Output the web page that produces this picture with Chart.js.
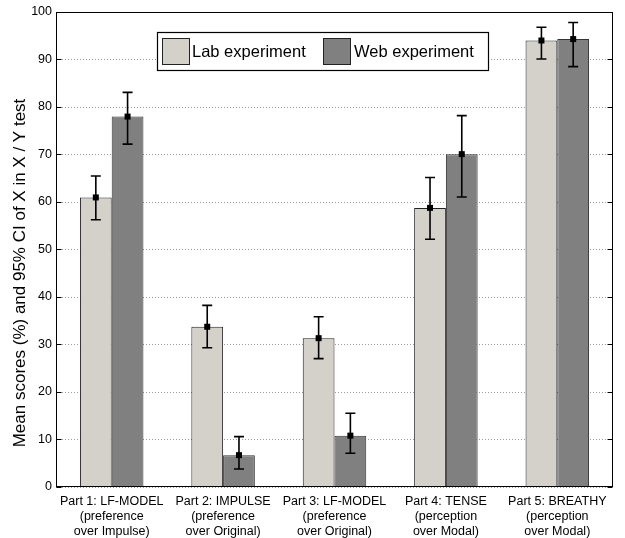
<!DOCTYPE html>
<html>
<head>
<meta charset="utf-8">
<script src="https://cdn.jsdelivr.net/npm/chart.js@4/dist/chart.umd.min.js"></script>
<style>
  html, body { margin: 0; padding: 0; background: #fff; }
  canvas { display: block; }
</style>
</head>
<body>
<canvas id="c" width="625" height="538"></canvas>
<script>
// ---- Data ----
const categories = [
  ["Part 1: LF-MODEL", "(preference", "over Impulse)"],
  ["Part 2: IMPULSE", "(preference", "over Original)"],
  ["Part 3: LF-MODEL", "(preference", "over Original)"],
  ["Part 4: TENSE", "(perception", "over Modal)"],
  ["Part 5: BREATHY", "(perception", "over Modal)"]
];
const seriesNames = ["Lab experiment", "Web experiment"];
const labMean = [60.9, 33.7, 31.3, 58.7, 93.9];
const labLow  = [56.2, 29.3, 27.0, 52.1, 90.0];
const labHigh = [65.4, 38.2, 35.8, 65.1, 96.7];
const webMean = [77.9, 6.7, 10.8, 70.0, 94.2];
const webLow  = [72.1, 3.8, 7.1, 61.0, 88.4];
const webHigh = [83.0, 10.6, 15.5, 78.1, 97.7];
const yTicks = [0, 10, 20, 30, 40, 50, 60, 70, 80, 90, 100];
const yTitle = "Mean scores (%) and 95% CI of X in X / Y test";

const FONT = "'Liberation Sans', Arial, Helvetica, sans-serif";
Chart.defaults.font.family = FONT;
Chart.defaults.color = '#000';

const labColor = '#d4d1cb';
const webColor = '#808080';

const errLow = [labLow, webLow];
const errHigh = [labHigh, webHigh];

const decor = {
  id: 'decor',
  beforeDatasetsDraw(chart) {
    const { ctx, chartArea: a, scales: { y } } = chart;
    ctx.save();
    ctx.strokeStyle = '#9a9a9a';
    ctx.lineWidth = 1;
    ctx.setLineDash([1, 2]);
    for (const v of yTicks) {
      const py = Math.round(y.getPixelForValue(v)) + 0.5;
      ctx.beginPath();
      ctx.moveTo(a.left, py);
      ctx.lineTo(a.right, py);
      ctx.stroke();
    }
    ctx.restore();
  },
  afterDatasetsDraw(chart) {
    const { ctx, chartArea: a, scales: { y } } = chart;
    ctx.save();
    // error bars
    ctx.strokeStyle = '#000';
    ctx.fillStyle = '#000';
    ctx.lineWidth = 1.6;
    for (let d = 0; d < 2; d++) {
      const meta = chart.getDatasetMeta(d);
      const vals = chart.data.datasets[d].data;
      meta.data.forEach((el, i) => {
        const x = el.x;
        const yl = y.getPixelForValue(errLow[d][i]);
        const yh = y.getPixelForValue(errHigh[d][i]);
        const ym = y.getPixelForValue(vals[i]);
        ctx.beginPath();
        ctx.moveTo(x, yl); ctx.lineTo(x, yh);
        ctx.moveTo(x - 5, yl); ctx.lineTo(x + 5, yl);
        ctx.moveTo(x - 5, yh); ctx.lineTo(x + 5, yh);
        ctx.stroke();
        ctx.fillRect(x - 3, ym - 3, 6, 6);
      });
    }
    // frame
    ctx.lineWidth = 1;
    ctx.strokeStyle = '#000';
    const L = Math.round(a.left) + 0.5, R = Math.round(a.right) - 0.5;
    const T = Math.round(a.top) + 0.5, B = Math.round(a.bottom) - 0.5;
    ctx.strokeRect(L, T, R - L, B - T);
    // inward ticks
    ctx.beginPath();
    for (const v of yTicks) {
      const py = Math.round(y.getPixelForValue(v)) + 0.5;
      ctx.moveTo(L, py); ctx.lineTo(L + 5, py);
      ctx.moveTo(R, py); ctx.lineTo(R - 5, py);
    }
    ctx.stroke();
    // legend
    const bx = 157, by = 32, bw = 331, bh = 38;
    ctx.fillStyle = '#fff';
    ctx.fillRect(bx, by, bw, bh);
    ctx.lineWidth = 1.2;
    ctx.strokeStyle = '#000';
    ctx.strokeRect(bx + 0.5, by + 0.5, bw, bh);
    const items = [
      { sx: 162, tx: 192, color: labColor },
      { sx: 323, tx: 354, color: webColor }
    ];
    ctx.font = "16.5px " + FONT;
    ctx.textBaseline = 'middle';
    ctx.textAlign = 'left';
    items.forEach((it, k) => {
      ctx.fillStyle = it.color;
      ctx.fillRect(it.sx, 38.5, 28, 26);
      ctx.strokeStyle = '#222';
      ctx.lineWidth = 1;
      ctx.strokeRect(it.sx + 0.5, 38.5, 27, 26);
      ctx.fillStyle = '#000';
      ctx.fillText(seriesNames[k], it.tx, 52);
    });
    // y title
    ctx.translate(20, 273);
    ctx.rotate(-Math.PI / 2);
    ctx.textAlign = 'center';
    ctx.textBaseline = 'middle';
    ctx.font = "17px " + FONT;
    ctx.fillText(yTitle, 0, 0);
    ctx.restore();
  }
};

new Chart(document.getElementById('c'), {
  type: 'bar',
  data: {
    labels: categories,
    datasets: [
      { label: seriesNames[0], data: labMean, backgroundColor: labColor, borderColor: '#222', borderWidth: 1 },
      { label: seriesNames[1], data: webMean, backgroundColor: webColor, borderColor: '#333', borderWidth: 1 }
    ]
  },
  options: {
    responsive: false,
    devicePixelRatio: 1,
    animation: false,
    layout: { padding: { top: 11, right: 12, left: 0, bottom: 0 } },
    datasets: { bar: { categoryPercentage: 0.57, barPercentage: 1.0 } },
    plugins: { legend: { display: false }, tooltip: { enabled: false } },
    scales: {
      x: {
        grid: { display: false, drawTicks: false },
        border: { display: false },
        ticks: { font: { size: 12.5, lineHeight: 1.2 }, color: '#000', padding: 7, maxRotation: 0, autoSkip: false },
        afterFit(s) { s.height = 51; }
      },
      y: {
        min: 0, max: 100,
        grid: { display: false, drawTicks: false },
        border: { display: false },
        ticks: { stepSize: 10, font: { size: 12.5 }, color: '#000', padding: 4 },
        afterFit(s) { s.width = 56; }
      }
    }
  },
  plugins: [decor]
});
</script>
</body>
</html>
